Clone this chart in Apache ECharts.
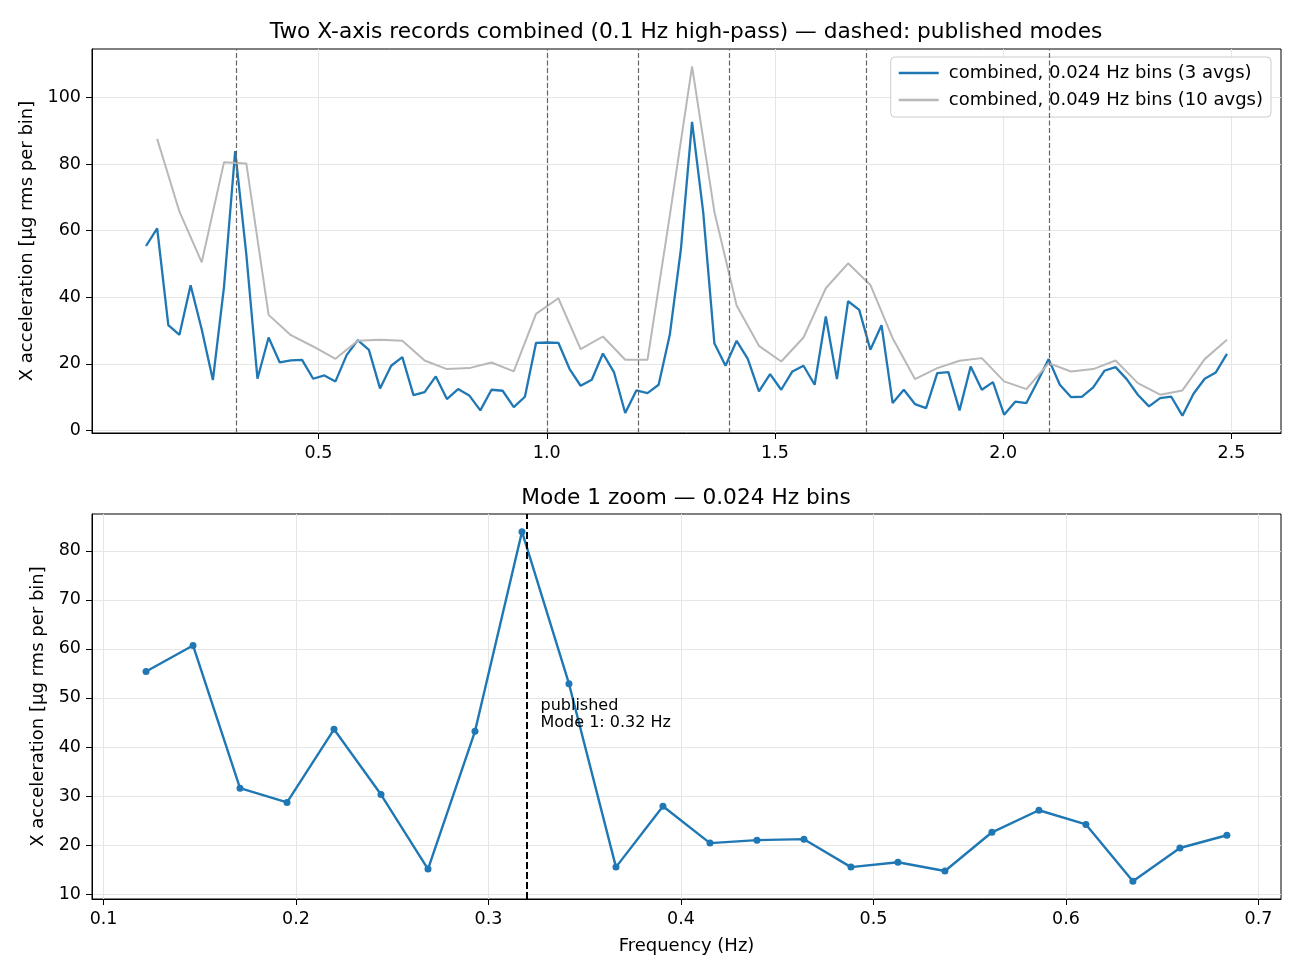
<!DOCTYPE html>
<html>
<head>
<meta charset="utf-8">
<script src="https://cdn.jsdelivr.net/npm/echarts@6/dist/echarts.min.js"></script>
<style>
  html, body { margin: 0; padding: 0; background: #fff; }
  #chart { width: 1300px; height: 975px; }
</style>
</head>
<body>
<div id="chart"></div>
<script>
const FONT = "DejaVu Sans";
const BLUE = "#1f77b4";
const GREY = "#b8b8b8";

// bin spacing of the two spectra (Hz)
const DF_FINE = 0.0244140625;
const DF_COARSE = 0.048828125;
const FINE_FIRST_BIN = 5;
const COARSE_FIRST_BIN = 3;

// combined, 0.024 Hz bins (3 avgs), bins 5..102
const fineValues = [
  55.4, 60.7, 31.6, 28.7, 43.6, 30.3, 15.1, 43.2, 83.9, 52.9,
  15.5, 27.9, 20.4, 21.0, 21.2, 15.5, 16.5, 14.7, 22.6, 27.1,
  24.2, 12.6, 19.4, 22.0, 10.6, 11.5, 16.2, 9.4, 12.4, 10.5,
  6.0, 12.2, 11.9, 7.0, 10.1, 26.3, 26.4, 26.3, 18.5, 13.4,
  15.2, 23.1, 17.4, 5.2, 12.0, 11.2, 13.7, 28.7, 54.5, 92.7,
  65.5, 26.2, 19.4, 26.9, 21.5, 11.7, 16.9, 12.2, 17.7, 19.4,
  13.7, 34.2, 15.4, 38.8, 36.2, 24.2, 31.6, 8.2, 12.2, 7.9,
  6.7, 17.2, 17.5, 6.0, 19.2, 12.2, 14.5, 4.7, 8.6, 8.2,
  14.7, 21.4, 13.7, 10.0, 10.1, 12.9, 17.9, 19.0, 15.4, 10.7,
  7.2, 9.7, 10.1, 4.4, 11.0, 15.5, 17.4, 23.0
];

// combined, 0.049 Hz bins (10 avgs), bins 3..51
const coarseValues = [
  87.6, 65.7, 50.5, 80.6, 80.2, 34.7, 28.6, 25.2, 21.5, 26.9,
  27.2, 26.9, 21.0, 18.4, 18.7, 20.4, 17.7, 35.0, 39.7, 24.4,
  28.2, 21.2, 21.2, 64.5, 109.4, 65.7, 37.5, 25.4, 20.7, 27.9,
  42.7, 50.2, 43.7, 27.7, 15.4, 18.7, 20.9, 21.7, 14.7, 12.4,
  20.2, 17.7, 18.4, 21.0, 14.2, 10.7, 12.0, 21.4, 27.2
];

// published mode frequencies (Hz)
const publishedModes = [0.32, 1.0, 1.2, 1.4, 1.7, 2.1];
const mode1 = 0.32;
// zoom panel covers the first 24 fine bins (up to 0.7 Hz)
const ZOOM_BINS = 24;

const topXTicks = [0.5, 1.0, 1.5, 2.0, 2.5];
const topYTicks = [0, 20, 40, 60, 80, 100];
const botXTicks = [0.1, 0.2, 0.3, 0.4, 0.5, 0.6, 0.7];
const botYTicks = [10, 20, 30, 40, 50, 60, 70, 80];

const fineData = fineValues.map((v, i) => [(FINE_FIRST_BIN + i) * DF_FINE, v]);
const coarseData = coarseValues.map((v, i) => [(COARSE_FIRST_BIN + i) * DF_COARSE, v]);
const zoomData = fineData.slice(0, ZOOM_BINS);

function valueAxis(gridIndex, min, max, ticks, fmt, extra) {
  return Object.assign({
    type: "value",
    gridIndex,
    min, max,
    axisLine: { show: true, onZero: false, lineStyle: { color: "#000", width: 1 } },
    axisTick: { show: true, inside: false, length: 6, customValues: ticks, lineStyle: { color: "#000", width: 1 } },
    axisLabel: { color: "#000", fontFamily: FONT, fontSize: 17.5, margin: 11, customValues: ticks, formatter: fmt },
    splitLine: { show: true, lineStyle: { color: "#e6e6e6", width: 1 } },
    nameTextStyle: { color: "#000", fontFamily: FONT, fontSize: 18 },
  }, extra || {});
}

const chart = echarts.init(document.getElementById("chart"), null, { renderer: "canvas" });

chart.setOption({
  animation: false,
  backgroundColor: "#fff",
  title: [
    {
      text: "Two X-axis records combined (0.1 Hz high-pass) — dashed: published modes",
      left: 681, top: 16, textAlign: "center",
      textStyle: { fontFamily: FONT, fontSize: 21.7, fontWeight: "normal", color: "#000" },
    },
    {
      text: "Mode 1 zoom — 0.024 Hz bins",
      left: 681, top: 482, textAlign: "center",
      textStyle: { fontFamily: FONT, fontSize: 21.7, fontWeight: "normal", color: "#000" },
    },
  ],
  legend: {
    data: ["combined, 0.024 Hz bins (3 avgs)", "combined, 0.049 Hz bins (10 avgs)"],
    orient: "vertical",
    right: 29, top: 57,
    itemWidth: 40, itemHeight: 2.5, itemGap: 9,
    icon: "rect",
    padding: [7, 8, 8, 8],
    backgroundColor: "rgba(255,255,255,0.85)",
    borderColor: "#cccccc", borderWidth: 1, borderRadius: 4,
    textStyle: { fontFamily: FONT, fontSize: 18, color: "#000", padding: [0, 0, 0, 5], lineHeight: 18 },
  },
  grid: [
    { left: 92, right: 19, top: 49, height: 384, show: true, borderColor: "#000", borderWidth: 1 },
    { left: 92, right: 19, top: 514, height: 385, show: true, borderColor: "#000", borderWidth: 1 },
  ],
  xAxis: [
    valueAxis(0, 0.0037, 2.6086, topXTicks, (v) => v.toFixed(1)),
    valueAxis(1, 0.094, 0.7117, botXTicks, (v) => v.toFixed(1), {
      name: "Frequency (Hz)", nameLocation: "middle", nameGap: 38,
    }),
  ],
  yAxis: [
    valueAxis(0, -0.8, 114.6, topYTicks, (v) => String(v), {
      name: "X acceleration [µg rms per bin]", nameLocation: "middle", nameGap: 55,
    }),
    valueAxis(1, 9.0, 87.5, botYTicks, (v) => String(v), {
      name: "X acceleration [µg rms per bin]", nameLocation: "middle", nameGap: 45,
    }),
  ],
  series: [
    {
      name: "combined, 0.024 Hz bins (3 avgs)",
      type: "line",
      xAxisIndex: 0, yAxisIndex: 0,
      data: fineData,
      showSymbol: false,
      lineStyle: { color: BLUE, width: 2.3 },
      itemStyle: { color: BLUE },
      silent: true,
    },
    {
      name: "combined, 0.049 Hz bins (10 avgs)",
      type: "line",
      xAxisIndex: 0, yAxisIndex: 0,
      data: coarseData,
      showSymbol: false,
      lineStyle: { color: GREY, width: 2 },
      itemStyle: { color: GREY },
      silent: true,
      markLine: {
        silent: true,
        symbol: ["none", "none"],
        label: { show: false },
        lineStyle: { color: "#666", type: [5, 2.5], width: 1.2 },
        data: publishedModes.map((f) => ({ xAxis: f })),
      },
    },
    {
      name: "zoom",
      type: "line",
      xAxisIndex: 1, yAxisIndex: 1,
      data: zoomData,
      symbol: "circle",
      symbolSize: 7,
      showSymbol: true,
      lineStyle: { color: BLUE, width: 2.4 },
      itemStyle: { color: BLUE },
      silent: true,
      markLine: {
        silent: true,
        symbol: ["none", "none"],
        label: { show: false },
        lineStyle: { color: "#000", type: [7, 3], width: 2 },
        data: [{ xAxis: mode1 }],
      },
      markPoint: {
        silent: true,
        symbol: "circle",
        symbolSize: 0,
        data: [{ coord: [mode1 * 1.03, 43.2] }],
        label: {
          show: true,
          position: [-5, 0],
          align: "left",
          verticalAlign: "bottom",
          formatter: "published\nMode 1: 0.32 Hz",
          fontFamily: FONT, fontSize: 16, lineHeight: 17, color: "#000",
        },
      },
    },
  ],
});
</script>
</body>
</html>
